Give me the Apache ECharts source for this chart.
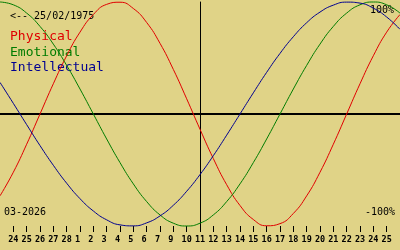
<!DOCTYPE html>
<html>
<head>
<meta charset="utf-8">
<script src="https://cdn.jsdelivr.net/npm/echarts@6/dist/echarts.min.js"></script>
<style>
html,body{margin:0;padding:0;background:#e0d387;}
#c{width:400px;height:250px;}
</style>
</head>
<body>
<div id="c"></div>
<script>
// day offsets relative to today (11 March 2026)
var dayOffsets = [-15,-14,-13,-12,-11,-10,-9,-8,-7,-6,-5,-4,-3,-2,-1,0,1,2,3,4,5,6,7,8,9,10,11,12,13,14,15];
var physical = [-0.731,-0.520,-0.270,0,0.270,0.520,0.731,0.888,0.979,0.998,0.942,0.817,0.631,0.398,0.136,-0.136,-0.398,-0.631,-0.817,-0.942,-0.998,-0.979,-0.888,-0.731,-0.520,-0.270,0,0.270,0.520,0.731,0.888];
var emotional = [1.0,0.975,0.901,0.782,0.624,0.434,0.223,0,-0.223,-0.434,-0.624,-0.782,-0.901,-0.975,-1.0,-0.975,-0.901,-0.782,-0.624,-0.434,-0.223,0,0.223,0.434,0.624,0.782,0.901,0.975,1.0,0.975,0.901];
var intellectual = [0.282,0.095,-0.095,-0.282,-0.458,-0.618,-0.756,-0.866,-0.945,-0.990,-0.999,-0.972,-0.910,-0.815,-0.690,-0.541,-0.372,-0.189,0,0.189,0.372,0.541,0.690,0.815,0.910,0.972,0.999,0.990,0.945,0.866,0.756];
// tick labels for offsets -14 .. 14
var tickOffsets = [-14,-13,-12,-11,-10,-9,-8,-7,-6,-5,-4,-3,-2,-1,0,1,2,3,4,5,6,7,8,9,10,11,12,13,14];
var tickLabels = ['24','25','26','27','28','1','2','3','4','5','6','7','9','10','11','12','13','14','15','16','17','18','19','20','21','22','23','24','25'];
var seriesNames = ['Physical','Emotional','Intellectual'];
var seriesColors = ['#e00000','#007c00','#000090'];
var birthText = '<-- 25/02/1975';
var monthText = '03-2026';
var topText = '100%';
var bottomText = '-100%';

function pairs(vals){ return dayOffsets.map(function(d,i){ return [d, vals[i]]; }); }
var labelMap = {};
tickOffsets.forEach(function(d,i){ labelMap[d] = tickLabels[i]; });

var chart = echarts.init(document.getElementById('c'), null, {renderer:'canvas'});
var smallFont = '10px "DejaVu Sans Mono"';
var bigFont = '13px "DejaVu Sans Mono"';
chart.setOption({
  backgroundColor: '#e0d387',
  animation: false,
  grid: {left: 0, right: 0, top: 2, height: 224, containLabel: false},
  xAxis: [
    {type:'value', min:-15, max:15, interval:1, axisLine:{show:true, onZero:true, lineStyle:{color:'#000', width:2}}, axisTick:{show:false}, axisLabel:{show:false}, splitLine:{show:false}},
    {type:'value', min:-15, max:15, interval:1, position:'bottom', axisLine:{show:false, onZero:false},
     axisTick:{show:true, length:6, lineStyle:{color:'#000', width:1}, interval:0},
     axisLabel:{show:true, margin:9, color:'#000', fontFamily:'DejaVu Sans Mono', fontWeight:'bold', fontSize:8.5,
       showMinLabel:false, showMaxLabel:false,
       formatter:function(v){ var s = labelMap[v]; if(s===undefined) return ''; return s.length<2 ? s+' ' : s; }},
     splitLine:{show:false}}
  ],
  yAxis: {type:'value', min:-1, max:1, axisLine:{show:true, onZero:true, lineStyle:{color:'#000', width:1}}, axisTick:{show:false}, axisLabel:{show:false}, splitLine:{show:false}},
  series: [physical, emotional, intellectual].map(function(vals, i){
    return {type:'line', name:seriesNames[i], xAxisIndex:0, data:pairs(vals), smooth:true, symbol:'none', clip:false,
      lineStyle:{color:seriesColors[i], width:1}, z:3};
  }),
  graphic: [
    {type:'text', x:10, y:11, style:{text:birthText, font:smallFont, fill:'#000', verticalAlign:'top'}, z:1},
    {type:'text', x:10, y:30, style:{text:seriesNames[0], font:bigFont, fill:seriesColors[0], verticalAlign:'top'}, z:1},
    {type:'text', x:10, y:46, style:{text:seriesNames[1], font:bigFont, fill:seriesColors[1], verticalAlign:'top'}, z:1},
    {type:'text', x:10, y:61, style:{text:seriesNames[2], font:bigFont, fill:seriesColors[2], verticalAlign:'top'}, z:1},
    {type:'text', x:394, y:5.5, style:{text:topText, font:smallFont, fill:'#000', align:'right', verticalAlign:'top'}, z:1},
    {type:'text', x:395, y:207.5, style:{text:bottomText, font:smallFont, fill:'#000', align:'right', verticalAlign:'top'}, z:1},
    {type:'text', x:4, y:207.5, style:{text:monthText, font:smallFont, fill:'#000', verticalAlign:'top'}, z:1}
  ]
});
</script>
</body>
</html>
